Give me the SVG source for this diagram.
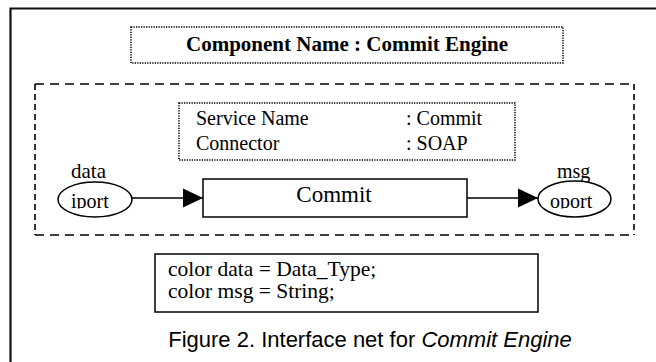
<svg xmlns="http://www.w3.org/2000/svg" width="656" height="362" viewBox="0 0 656 362">
  <style>
    .serif { font-family: "Liberation Serif", "Times New Roman", serif; fill: #000; }
    .dotted { fill: none; stroke: #000; stroke-width: 1.5; stroke-dasharray: 1.3 1.2; }
    .dash-h { fill: none; stroke: #000; stroke-width: 1.6; stroke-dasharray: 9 6; }
    .dash-v { fill: none; stroke: #000; stroke-width: 1.6; stroke-dasharray: 6 4; }
    .solid { fill: #fff; stroke: #000; stroke-width: 1.5; }
    .port { fill: #fff; stroke: #000; stroke-width: 1.5; }
    .wire { fill: none; stroke: #000; stroke-width: 1.5; }
  </style>
  <defs>
    <marker id="arrow" markerUnits="userSpaceOnUse" markerWidth="20" markerHeight="20" viewBox="0 0 20 20" refX="20" refY="10" orient="auto">
      <path d="M0,0.5 L20,10 L0,19.5 Z" fill="#000"/>
    </marker>
    <!-- port names sit inside their ellipses and lose their descenders -->
    <clipPath id="portText">
      <rect x="0" y="0" width="656" height="208.5"/>
    </clipPath>
  </defs>

  <rect width="656" height="362" fill="#fff"/>

  <!-- page frame (open to the right and bottom) -->
  <path d="M10.5,362 V8.5 H656" fill="none" stroke="#111" stroke-width="2.2"/>

  <g id="component-name">
    <rect class="dotted" x="131" y="27" width="432" height="36"/>
    <text class="serif" x="347" y="51" font-size="21" font-weight="bold" text-anchor="middle">Component Name : Commit Engine</text>
  </g>

  <g id="interface-boundary">
    <line class="dash-h" x1="35" y1="84" x2="634" y2="84"/>
    <line class="dash-h" x1="35" y1="235" x2="634" y2="235"/>
    <line class="dash-v" x1="35" y1="84" x2="35" y2="235"/>
    <line class="dash-v" x1="634" y1="84" x2="634" y2="235"/>
  </g>

  <g id="service-info">
    <rect class="dotted" x="179" y="103" width="336" height="57"/>
    <text class="serif" x="196" y="125" font-size="20">Service Name</text>
    <text class="serif" x="406" y="125" font-size="20">: Commit</text>
    <text class="serif" x="196" y="150" font-size="20">Connector</text>
    <text class="serif" x="406" y="150" font-size="20">: SOAP</text>
  </g>

  <g id="connectors">
    <line class="wire" x1="132" y1="198" x2="203" y2="198" marker-end="url(#arrow)"/>
    <line class="wire" x1="467" y1="198" x2="538" y2="198" marker-end="url(#arrow)"/>
  </g>

  <g id="iport">
    <text class="serif" x="71" y="178" font-size="21">data</text>
    <ellipse class="port" cx="95" cy="199.5" rx="37" ry="17.5"/>
    <text class="serif" x="71" y="207.5" font-size="20" clip-path="url(#portText)">iport</text>
  </g>

  <g id="commit">
    <rect class="solid" x="203" y="179" width="264" height="38"/>
    <text class="serif" x="334" y="202" font-size="23" text-anchor="middle">Commit</text>
  </g>

  <g id="oport">
    <text class="serif" x="557" y="178" font-size="20">msg</text>
    <ellipse class="port" cx="574.5" cy="199" rx="36.5" ry="18"/>
    <text class="serif" x="550" y="207.5" font-size="20" clip-path="url(#portText)">oport</text>
  </g>

  <g id="color-declarations">
    <rect class="solid" x="155" y="254" width="383" height="58"/>
    <text class="serif" x="168" y="276" font-size="21.5">color data = Data_Type;</text>
    <text class="serif" x="168" y="298" font-size="21.5">color msg = String;</text>
  </g>

  <text x="370" y="347" font-family="Liberation Sans, Arial, sans-serif" font-size="22" text-anchor="middle">Figure 2. Interface net for <tspan font-style="italic">Commit Engine</tspan></text>
</svg>
